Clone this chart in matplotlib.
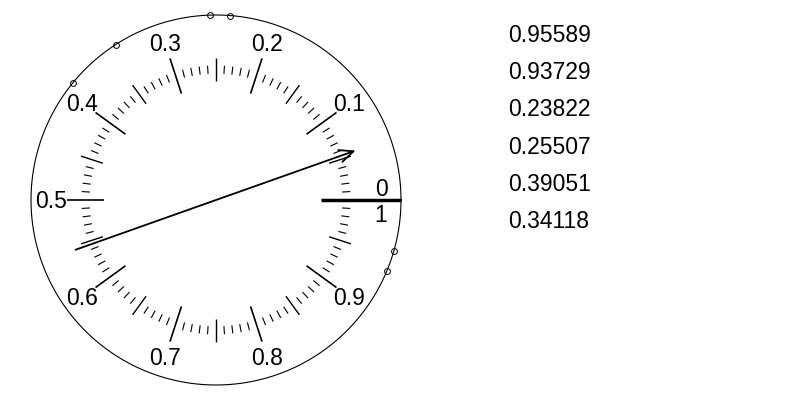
import numpy as np
import matplotlib
matplotlib.use("Agg")
import matplotlib.pyplot as plt

# observations on the circle (fraction of a full turn, 0 at east, counterclockwise)
values = [0.95589, 0.93729, 0.23822, 0.25507, 0.39051, 0.34118]
# direction the needle points to
needle = 0.0542
major_labels = ["0.1", "0.2", "0.3", "0.4", "0.5", "0.6", "0.7", "0.8", "0.9"]
major_pos = [0.1, 0.2, 0.3, 0.4, 0.5, 0.6, 0.7, 0.8, 0.9]

plt.rcParams['font.family'] = ['Liberation Sans', 'DejaVu Sans']

fig = plt.figure(figsize=(8, 4), dpi=100)
ax = fig.add_axes([0, 0, 1, 1])
R = 185.0
cx, cy = 216.0, 200.0
ax.set_xlim(-cx / R, (800 - cx) / R)
ax.set_ylim(-cy / R, (400 - cy) / R)
ax.set_aspect('equal')
ax.axis('off')

def xy(v, r):
    a = 2 * np.pi * np.asarray(v)
    return r * np.cos(a), r * np.sin(a)

# outer circle
t = np.linspace(0, 1, 721)
x, y = xy(t, 1.0)
ax.plot(x, y, color='black', lw=0.8)

# ticks, all centred on the same radius
rc = 0.705
for i in range(100):
    v = i / 100
    if i % 10 == 0:
        h = 0.100
        lw = 1.2
    elif i % 5 == 0:
        h = 0.062
        lw = 1.0
    else:
        h = 0.022
        lw = 0.8
    x, y = xy([v, v], [rc - h, rc + h])
    ax.plot(x, y, color='black', lw=lw, solid_capstyle='butt')

# heavy zero mark
x, y = xy([0, 0], [0.568, 1.0])
ax.plot(x, y, color='black', lw=2.5, solid_capstyle='butt')

# labels
for v, lab in zip(major_pos, major_labels):
    x, y = xy(v, 0.892)
    ax.text(x, y - 0.006, lab, ha='center', va='center', fontsize=16.5)
ax.text(0.892, 0.020, "0", ha='center', va='baseline', fontsize=16.5)
ax.text(0.892, -0.022, "1", ha='center', va='top', fontsize=16.5)

# data points on the circle
x, y = xy(values, 1.0)
ax.plot(x, y, 'o', mfc='none', mec='black', ms=4.2, mew=0.7)

# needle through the centre
x0, y0 = xy(needle + 0.5, 0.805)
x1, y1 = xy(needle, 0.80)
ax.annotate("", xy=(x1, y1), xytext=(x0, y0),
            arrowprops=dict(arrowstyle='->,head_length=1.0,head_width=0.45',
                            color='black', lw=1.3, shrinkA=0, shrinkB=0))

# values listed on the right
for i, v in enumerate(values):
    fig.text(508 / 800, 1 - (35.5 + 37.2 * i) / 400, "%.5f" % v,
             ha='left', va='center', fontsize=16.5)

fig.savefig("out.png", dpi=100)
